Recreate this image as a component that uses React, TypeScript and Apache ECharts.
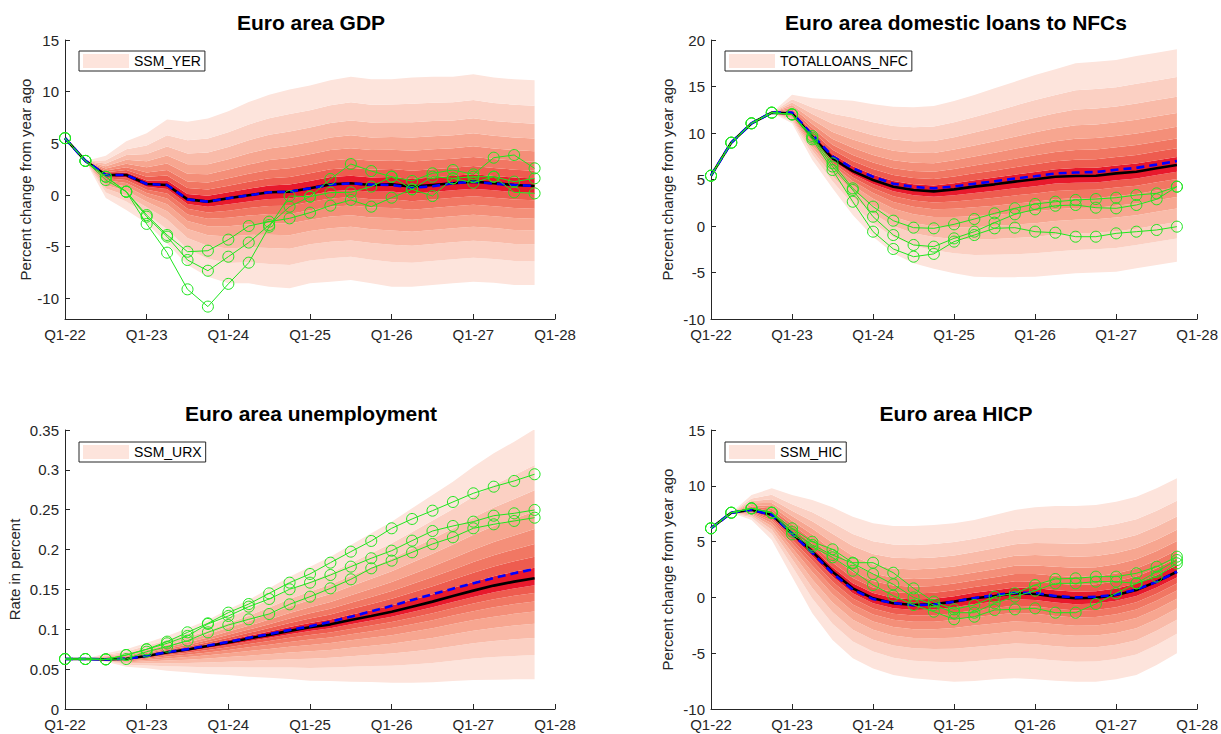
import React, { useEffect, useRef } from 'react';
import * as echarts from 'echarts';

// ---------- categories / ticks ----------
const quarters = [
  'Q1-22', 'Q2-22', 'Q3-22', 'Q4-22', 'Q1-23', 'Q2-23', 'Q3-23', 'Q4-23',
  'Q1-24', 'Q2-24', 'Q3-24', 'Q4-24', 'Q1-25', 'Q2-25', 'Q3-25', 'Q4-25',
  'Q1-26', 'Q2-26', 'Q3-26', 'Q4-26', 'Q1-27', 'Q2-27', 'Q3-27', 'Q4-27',
];
const axisEndLabel = 'Q1-28';

const gdpYTicks = [-10, -5, 0, 5, 10, 15];
const loansYTicks = [-10, -5, 0, 5, 10, 15, 20];
const unempYTicks = [0, 0.05, 0.1, 0.15, 0.2, 0.25, 0.3, 0.35];
const hicpYTicks = [-10, -5, 0, 5, 10, 15];

// fan quantile edge positions (share of distance from median to outer edge)
const FAN_LEVELS = [1, 0.76, 0.59, 0.45, 0.33, 0.23, 0.145, 0.07];
const FAN_COLORS = ['#fde4dc', '#fbd0c3', '#f9bba9', '#f7a690', '#f48f79', '#f17763', '#ee5c4f', '#e8192c'];

// ---------- GDP ----------
const gdpMedian = [5.5, 3.3, 1.94, 1.94, 1.06, 0.97, -0.42, -0.64, -0.32, -0.03, 0.26, 0.32, 0.65, 1.03, 1.13, 0.97, 1.03, 0.81, 0.97, 1.13, 1.29, 1.13, 0.97, 0.87];
const gdpBaseline = [5.5, 3.3, 1.94, 1.94, 1.06, 0.97, -0.42, -0.64, -0.32, -0.03, 0.26, 0.32, 0.65, 1.0, 1.13, 1.0, 0.97, 0.7, 0.85, 1.13, 1.29, 1.1, 0.97, 0.87];
const gdpS1 = [5.5, 3.3, 1.45, 0.32, -2.8, -5.58, -9.13, -10.8, -8.6, -6.55, -3.07, -0.1, -0.16, 1.55, 3.0, 2.32, 1.77, 1.36, 2.1, 2.42, 2.0, 3.61, 3.87, 2.58];
const gdpS2 = [5.5, 3.3, 1.77, 0.32, -2.1, -4.03, -6.29, -7.33, -5.97, -4.6, -2.9, -1.13, -0.16, 0.23, 0.26, 0.81, 1.77, 0.55, -0.1, 1.61, 1.77, 1.77, 1.29, 1.61];
const gdpS3 = [5.5, 3.3, 1.77, 0.32, -1.94, -3.87, -5.49, -5.39, -4.32, -3.0, -2.58, -2.26, -1.71, -1.03, -0.48, -1.13, -0.26, 0.55, 1.77, 1.61, 1.19, 1.77, 0.26, 0.16];
const gdpFanUpper = [5.5, 3.3, 3.8, 5.2, 5.97, 7.3, 7.1, 7.4, 8.1, 9.0, 9.7, 10.2, 10.6, 11.1, 11.45, 11.2, 11.2, 11.36, 11.45, 11.45, 11.68, 11.36, 11.2, 11.1];
const gdpFanLower = [5.5, 3.3, -0.3, -1.45, -2.74, -4.68, -6.78, -7.9, -8.55, -8.55, -8.87, -9.03, -8.55, -8.39, -8.23, -8.55, -8.87, -8.87, -8.7, -8.55, -8.39, -8.5, -8.7, -8.7];

// ---------- Loans to NFCs ----------
const loansMedian = [5.41, 8.96, 11.04, 12.19, 12.1, 9.6, 7.27, 5.9, 4.95, 4.23, 3.87, 3.72, 3.94, 4.23, 4.48, 4.77, 5.02, 5.3, 5.38, 5.41, 5.66, 5.84, 6.2, 6.56];
const loansBaseline = [5.41, 8.96, 11.04, 12.19, 12.2, 9.8, 7.5, 6.2, 5.3, 4.55, 4.2, 4.05, 4.25, 4.55, 4.8, 5.1, 5.35, 5.65, 5.75, 5.8, 6.05, 6.25, 6.6, 6.99];
const loansS1 = [5.41, 8.96, 11.04, 12.19, 12.0, 9.68, 6.74, 4.05, 2.08, 0.57, -0.18, -0.25, 0.18, 0.75, 1.36, 1.9, 2.37, 2.61, 2.8, 2.9, 3.04, 3.33, 3.51, 4.23];
const loansS2 = [5.41, 8.96, 11.04, 12.19, 12.0, 9.5, 6.4, 3.87, 1.0, -0.97, -2.04, -2.22, -1.33, -0.61, 0.36, 1.26, 1.79, 2.18, 2.26, 1.97, 1.9, 2.26, 2.87, 4.23];
const loansS3 = [5.41, 8.96, 11.04, 12.19, 12.0, 9.32, 6.02, 2.61, -0.61, -2.47, -3.3, -3.0, -1.68, -0.97, -0.25, -0.18, -0.61, -0.72, -1.15, -1.15, -0.79, -0.61, -0.43, -0.07];
const loansFanUpper = [5.41, 8.96, 11.04, 12.19, 14.1, 13.73, 13.6, 13.48, 13.1, 12.83, 12.76, 12.9, 13.44, 14.09, 14.8, 15.52, 16.24, 16.85, 17.49, 17.67, 17.85, 18.28, 18.64, 19.0];
const loansFanLower = [5.41, 8.96, 11.04, 12.19, 11.04, 7.1, 4.05, 1.18, -1.15, -2.94, -4.0, -4.6, -5.09, -5.45, -5.5, -5.5, -5.45, -5.27, -5.09, -5.0, -4.91, -4.55, -4.19, -3.84];

// ---------- Unemployment ----------
const unempMedian = [0.0627, 0.0627, 0.0623, 0.063, 0.0665, 0.071, 0.0746, 0.079, 0.0835, 0.0885, 0.093, 0.098, 0.1025, 0.1062, 0.1117, 0.1167, 0.122, 0.1284, 0.1347, 0.1418, 0.1485, 0.1548, 0.1598, 0.164];
const unempBaseline = [0.0627, 0.0627, 0.0623, 0.063, 0.0667, 0.0713, 0.0751, 0.0796, 0.0843, 0.0894, 0.094, 0.0992, 0.1037, 0.1095, 0.1158, 0.1225, 0.1295, 0.1368, 0.144, 0.151, 0.1577, 0.1643, 0.1703, 0.1757];
const unempS1 = [0.0627, 0.0627, 0.0623, 0.0677, 0.0749, 0.0845, 0.0962, 0.1075, 0.1209, 0.1317, 0.1451, 0.1585, 0.1694, 0.1836, 0.1974, 0.2108, 0.2267, 0.2384, 0.2488, 0.2597, 0.2706, 0.2789, 0.2861, 0.2945];
const unempS2 = [0.0627, 0.0627, 0.0623, 0.0677, 0.0749, 0.0824, 0.0916, 0.1067, 0.1167, 0.1284, 0.138, 0.1502, 0.1585, 0.1681, 0.1786, 0.1891, 0.1986, 0.2112, 0.2233, 0.2296, 0.235, 0.2425, 0.2455, 0.2497];
const unempS3 = [0.0627, 0.0627, 0.0623, 0.0627, 0.0719, 0.0782, 0.0857, 0.0962, 0.1054, 0.1125, 0.1192, 0.1313, 0.1409, 0.1514, 0.1627, 0.1765, 0.1861, 0.1966, 0.207, 0.2154, 0.2267, 0.2317, 0.2359, 0.24];
const unempFanUpper = [0.0627, 0.0627, 0.07, 0.0749, 0.0832, 0.0916, 0.1012, 0.1117, 0.125, 0.1368, 0.1514, 0.166, 0.1786, 0.1911, 0.2058, 0.2204, 0.235, 0.2518, 0.2685, 0.2852, 0.304, 0.3208, 0.3354, 0.351];
const unempFanLower = [0.0627, 0.0627, 0.0594, 0.0531, 0.051, 0.0481, 0.046, 0.0439, 0.0427, 0.0406, 0.0393, 0.0376, 0.0355, 0.035, 0.0343, 0.034, 0.033, 0.033, 0.0335, 0.035, 0.0364, 0.0368, 0.0372, 0.0372];

// ---------- HICP ----------
const hicpMedian = [6.19, 7.59, 7.85, 7.4, 5.74, 4.1, 2.3, 0.81, -0.08, -0.53, -0.68, -0.62, -0.38, -0.08, 0.13, 0.37, 0.3, 0.07, -0.08, -0.03, 0.22, 0.66, 1.41, 2.3];
const hicpBaseline = [6.19, 7.59, 7.85, 7.4, 5.7, 4.0, 2.15, 0.7, -0.15, -0.5, -0.7, -0.65, -0.38, -0.05, 0.2, 0.42, 0.4, 0.13, 0.0, 0.05, 0.25, 0.7, 1.4, 2.3];
const hicpS1 = [6.19, 7.59, 7.98, 7.59, 6.19, 4.99, 4.31, 3.11, 3.11, 2.21, 0.81, -0.38, -1.07, -0.68, 0.07, 0.37, 1.11, 1.65, 1.71, 1.86, 1.86, 2.16, 2.75, 3.65];
const hicpS2 = [6.19, 7.59, 7.98, 7.59, 5.89, 4.7, 3.8, 3.05, 2.1, 1.17, 0.0, -0.68, -1.37, -1.37, -0.53, 0.07, 0.6, 1.26, 1.26, 1.41, 1.41, 1.26, 2.3, 3.35];
const hicpS3 = [6.19, 7.59, 7.98, 7.59, 5.65, 4.54, 3.59, 2.39, 1.11, 0.15, -0.68, -1.28, -1.96, -1.73, -1.13, -1.07, -0.98, -1.37, -1.37, -0.59, 0.37, 1.26, 1.86, 3.05];
const hicpFanUpper = [6.19, 7.59, 9.17, 9.77, 9.17, 8.73, 8.07, 7.23, 6.64, 6.4, 6.4, 6.49, 6.64, 6.94, 7.38, 7.83, 8.07, 8.19, 8.19, 8.28, 8.58, 9.02, 9.77, 10.67];
const hicpFanLower = [6.19, 7.59, 6.94, 5.14, 1.86, -1.43, -3.82, -5.46, -6.36, -6.95, -7.25, -7.4, -7.55, -7.49, -7.34, -7.25, -7.34, -7.46, -7.55, -7.55, -7.34, -6.95, -6.06, -5.01];

// ---------- panel definitions ----------
const panels = [
  {
    title: 'Euro area GDP', legend: 'SSM_YER', yName: 'Percent change from year ago',
    median: gdpMedian, baseline: gdpBaseline, scenarios: [gdpS1, gdpS2, gdpS3],
    upper: gdpFanUpper, lower: gdpFanLower, yTicks: gdpYTicks, yMin: -12, yMax: 15,
    grid: { left: 65, top: 40, width: 490, height: 279 }, nameGap: 32, titleX: 311, titleY: 22, legendTop: 51,
  },
  {
    title: 'Euro area domestic loans to NFCs', legend: 'TOTALLOANS_NFC', yName: 'Percent change from year ago',
    median: loansMedian, baseline: loansBaseline, scenarios: [loansS1, loansS2, loansS3],
    upper: loansFanUpper, lower: loansFanLower, yTicks: loansYTicks, yMin: -10, yMax: 20,
    grid: { left: 711, top: 40, width: 489, height: 279 }, nameGap: 36, titleX: 956, titleY: 22, legendTop: 51,
  },
  {
    title: 'Euro area unemployment', legend: 'SSM_URX', yName: 'Rate in percent',
    median: unempMedian, baseline: unempBaseline, scenarios: [unempS1, unempS2, unempS3],
    upper: unempFanUpper, lower: unempFanLower, yTicks: unempYTicks, yMin: 0, yMax: 0.35,
    grid: { left: 65, top: 430, width: 490, height: 279 }, nameGap: 43, titleX: 311, titleY: 413, legendTop: 442,
  },
  {
    title: 'Euro area HICP', legend: 'SSM_HIC', yName: 'Percent change from year ago',
    median: hicpMedian, baseline: hicpBaseline, scenarios: [hicpS1, hicpS2, hicpS3],
    upper: hicpFanUpper, lower: hicpFanLower, yTicks: hicpYTicks, yMin: -10, yMax: 15,
    grid: { left: 711, top: 430, width: 489, height: 279 }, nameGap: 36, titleX: 956, titleY: 413, legendTop: 442,
  },
];

const FONT = '"Liberation Sans", Arial, Helvetica, sans-serif';
const AXIS_COLOR = '#262626';
const GREEN = '#1ee61e';

function buildFan(p: number, cfg: any) {
  const med: number[] = cfg.median;
  const up: number[] = cfg.upper;
  const lo: number[] = cfg.lower;
  const lowerEdges = FAN_LEVELS.map((f) => med.map((m, i) => m - f * (m - lo[i])));
  const upperEdges = FAN_LEVELS.map((f) => med.map((m, i) => m + f * (up[i] - m)));
  const edges = [...lowerEdges, ...upperEdges.slice().reverse()];
  const bandColors = [...FAN_COLORS.slice(0, 7), FAN_COLORS[7], ...FAN_COLORS.slice(0, 7).reverse()];
  const out: any[] = [];
  out.push({
    type: 'line', name: 'fanbase' + p, xAxisIndex: p, yAxisIndex: p, stack: 'fan' + p, stackStrategy: 'all',
    symbol: 'none', silent: true, z: 1, lineStyle: { width: 0, opacity: 0 },
    data: edges[0],
  });
  for (let b = 0; b < edges.length - 1; b++) {
    const isTop = b === edges.length - 2;
    out.push({
      type: 'line', name: isTop ? cfg.legend : 'band' + p + '_' + b,
      xAxisIndex: p, yAxisIndex: p, stack: 'fan' + p, stackStrategy: 'all',
      symbol: 'none', silent: true, z: 1,
      lineStyle: { width: 0, opacity: 0 },
      itemStyle: { color: bandColors[b] },
      areaStyle: { color: bandColors[b], opacity: 1 },
      data: edges[b + 1].map((v, i) => v - edges[b][i]),
    });
  }
  return out;
}

function buildOption() {
  const grid: any[] = [];
  const xAxis: any[] = [];
  const yAxis: any[] = [];
  const series: any[] = [];
  const legend: any[] = [];
  const graphic: any[] = [];
  const categories = [...quarters, axisEndLabel];

  panels.forEach((cfg, p) => {
    grid.push({ ...cfg.grid, containLabel: false });
    xAxis.push({
      type: 'category', gridIndex: p, data: categories, boundaryGap: false,
      axisLine: { show: true, onZero: false, lineStyle: { color: AXIS_COLOR, width: 1 } },
      axisTick: { show: true, inside: true, length: 5, interval: 3, lineStyle: { color: AXIS_COLOR } },
      axisLabel: { color: AXIS_COLOR, fontSize: 15, fontFamily: FONT, margin: 8, interval: 3 },
      splitLine: { show: false },
    });
    yAxis.push({
      type: 'value', gridIndex: p, min: cfg.yMin, max: cfg.yMax,
      name: cfg.yName, nameLocation: 'middle', nameGap: cfg.nameGap,
      nameTextStyle: { color: AXIS_COLOR, fontSize: 15, fontFamily: FONT },
      axisLine: { show: true, onZero: false, lineStyle: { color: AXIS_COLOR, width: 1 } },
      axisTick: { show: true, inside: true, length: 5, lineStyle: { color: AXIS_COLOR }, customValues: cfg.yTicks },
      axisLabel: { color: AXIS_COLOR, fontSize: 15, fontFamily: FONT, margin: 6, customValues: cfg.yTicks },
      splitLine: { show: false },
    });

    series.push(...buildFan(p, cfg));

    series.push({
      type: 'line', name: 'median' + p, xAxisIndex: p, yAxisIndex: p, symbol: 'none', z: 3,
      lineStyle: { color: '#000000', width: 2.6 }, itemStyle: { color: '#000000' },
      data: cfg.median,
    });
    series.push({
      type: 'line', name: 'baseline' + p, xAxisIndex: p, yAxisIndex: p, symbol: 'none', z: 4,
      lineStyle: { color: '#0000ff', width: 2.6, type: [8, 5] }, itemStyle: { color: '#0000ff' },
      data: cfg.baseline,
    });
    cfg.scenarios.forEach((s: number[], k: number) => {
      series.push({
        type: 'line', name: 'scenario' + p + '_' + k, xAxisIndex: p, yAxisIndex: p, z: 5,
        symbol: 'circle', symbolSize: 11, showAllSymbol: true,
        lineStyle: { color: GREEN, width: 1 },
        itemStyle: { color: 'rgba(0,0,0,0)', borderColor: GREEN, borderWidth: 1 },
        data: s,
      });
    });

    legend.push({
      left: cfg.grid.left + 14, top: cfg.legendTop, orient: 'horizontal',
      data: [{ name: cfg.legend, icon: 'rect' }],
      itemWidth: 46, itemHeight: 14, itemGap: 0,
      padding: [3, 4, 3, 4],
      borderColor: AXIS_COLOR, borderWidth: 1, backgroundColor: '#ffffff',
      selectedMode: false,
      itemStyle: { color: FAN_COLORS[0], borderWidth: 0 },
      textStyle: { color: '#000000', fontSize: 14, fontFamily: FONT },
    });

    graphic.push({
      type: 'text', x: cfg.titleX, y: cfg.titleY, silent: true,
      style: {
        text: cfg.title, fill: '#000000', textAlign: 'center', textVerticalAlign: 'middle',
        font: 'bold 21px ' + FONT,
      },
    });
  });

  return {
    animation: false,
    backgroundColor: '#ffffff',
    grid, xAxis, yAxis, series, legend, graphic,
    tooltip: { show: false },
  };
}

export default function App() {
  const ref = useRef<HTMLDivElement>(null);
  useEffect(() => {
    if (!ref.current) return;
    const chart = echarts.init(ref.current, undefined, { renderer: 'svg' });
    chart.setOption(buildOption() as any);
    return () => chart.dispose();
  }, []);
  return (
    <div
      ref={ref}
      style={{ position: 'absolute', left: 0, top: 0, width: 1221, height: 734, background: '#fff' }}
    />
  );
}
